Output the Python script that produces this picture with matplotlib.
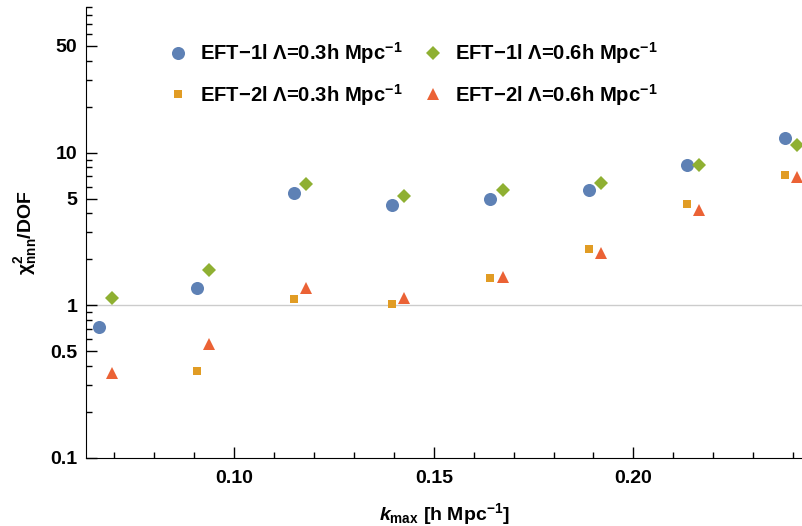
import matplotlib
matplotlib.use("Agg")
import matplotlib.pyplot as plt
from matplotlib.ticker import LogLocator, FixedLocator, MultipleLocator, NullFormatter, FuncFormatter

plt.rcParams['font.family'] = ['Liberation Sans', 'DejaVu Sans']
plt.rcParams['font.weight'] = 'bold'
plt.rcParams['axes.labelweight'] = 'bold'
plt.rcParams['mathtext.fontset'] = 'custom'
plt.rcParams['mathtext.rm'] = 'Liberation Sans:bold'
plt.rcParams['mathtext.bf'] = 'Liberation Sans:bold'
plt.rcParams['mathtext.it'] = 'Liberation Sans:bold:italic'
plt.rcParams['mathtext.default'] = 'regular'

# k_max values (h/Mpc)
k_03 = [0.0662, 0.0906, 0.1150, 0.1395, 0.1642, 0.1888, 0.2134, 0.2381]
k_06 = [0.0693, 0.0937, 0.1181, 0.1426, 0.1673, 0.1919, 0.2165, 0.2410]
k_2l_03 = k_03[1:]

# chi^2/DOF values
eft1l_03 = [0.72, 1.30, 5.45, 4.57, 5.00, 5.73, 8.36, 12.4]
eft1l_06 = [1.125, 1.71, 6.25, 5.24, 5.73, 6.37, 8.36, 11.3]
eft2l_03 = [0.371, 1.10, 1.02, 1.52, 2.35, 4.62, 7.19]
eft2l_06 = [0.359, 0.556, 1.29, 1.11, 1.53, 2.19, 4.22, 6.91]

labels = [r"EFT$-$1l $\Lambda$=0.3h Mpc$^{-1}$",
          r"EFT$-$2l $\Lambda$=0.3h Mpc$^{-1}$",
          r"EFT$-$1l $\Lambda$=0.6h Mpc$^{-1}$",
          r"EFT$-$2l $\Lambda$=0.6h Mpc$^{-1}$"]

blue = "#5E81B5"
orange = "#E19C24"
green = "#8FB032"
red = "#EB6235"

fig = plt.figure(figsize=(8.03, 5.26), dpi=100)
ax = fig.add_axes([0.1067, 0.1293, 0.8933, 0.8574])

ax.axhline(1, color="#cccccc", lw=1, zorder=0)

ax.plot(k_03, eft1l_03, 'o', color=blue, ms=9.4, mew=0, label=labels[0], clip_on=False)
ax.plot(k_2l_03, eft2l_03, 's', color=orange, ms=5.8, mew=0, label=labels[1], clip_on=False)
ax.plot(k_06, eft1l_06, 'D', color=green, ms=6.7, mew=0, label=labels[2], clip_on=False)
ax.plot(k_06, eft2l_06, '^', color=red, ms=8.8, mew=0, label=labels[3], clip_on=False)

ax.set_yscale('log')
ax.set_ylim(0.1, 90)
ax.set_xlim(0.0628, 0.2425)

ax.yaxis.set_major_locator(FixedLocator([0.1, 0.5, 1, 5, 10, 50]))
ax.yaxis.set_major_formatter(FuncFormatter(lambda v, p: "%g" % v))
ax.yaxis.set_minor_locator(LogLocator(base=10, subs=(2, 3, 4, 6, 7, 8, 9)))
ax.yaxis.set_minor_formatter(NullFormatter())
ax.xaxis.set_major_locator(FixedLocator([0.10, 0.15, 0.20]))
ax.xaxis.set_major_formatter(FuncFormatter(lambda v, p: "%.2f" % v))
ax.xaxis.set_minor_locator(MultipleLocator(0.01))

ax.tick_params(which='both', direction='in', width=1, labelsize=14)
ax.tick_params(which='major', length=8)
ax.tick_params(which='minor', length=4.5)
ax.tick_params(axis='x', pad=9)
ax.tick_params(axis='y', pad=6)

ax.spines['top'].set_visible(False)
ax.spines['right'].set_visible(False)

ax.set_ylabel(r"$\chi^2_{nnn}$/DOF", fontsize=14, labelpad=8)
ax.set_xlabel(r"$\mathit{k}_{max}$ [h Mpc$^{-1}$]", fontsize=14, labelpad=10)

ax.legend(loc='upper left', ncol=2, frameon=False, fontsize=14.6,
          bbox_to_anchor=(0.089, 0.966), labelspacing=0.75, columnspacing=1.0,
          handletextpad=0.6, handlelength=1.0)

fig.savefig("out.png", dpi=100)
